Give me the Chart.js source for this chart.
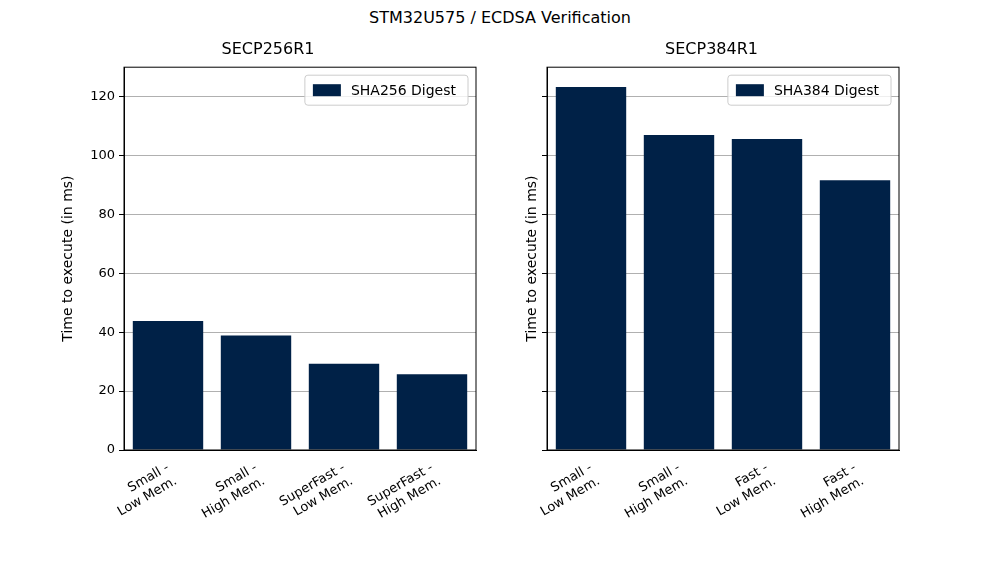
<!DOCTYPE html>
<html>
<head>
<meta charset="utf-8">
<script src="https://cdn.jsdelivr.net/npm/chart.js@4"></script>
<style>
  body { margin: 0; background: #fff; font-family: "DejaVu Sans", sans-serif; }
  #wrap { position: relative; width: 1000px; height: 563px; }
  #suptitle { position: absolute; top: 8px; left: 0; width: 1000px; text-align: center; font-size: 16px; color: #000; }
  .box { position: absolute; top: 0; width: 500px; height: 563px; }
</style>
</head>
<body>
<div id="wrap">
  <div id="suptitle">STM32U575 / ECDSA Verification</div>
  <div class="box" style="left:0"><canvas id="c1"></canvas></div>
  <div class="box" style="left:500px"><canvas id="c2"></canvas></div>
</div>
<script>
'use strict';

const LABELS_256 = [['Small -', 'Low Mem.'], ['Small -', 'High Mem.'], ['SuperFast -', 'Low Mem.'], ['SuperFast -', 'High Mem.']];
const VALUES_256 = [43.8, 38.9, 29.3, 25.7];
const LABELS_384 = [['Small -', 'Low Mem.'], ['Small -', 'High Mem.'], ['Fast -', 'Low Mem.'], ['Fast -', 'High Mem.']];
const VALUES_384 = [123.3, 107.0, 105.6, 91.6];
const Y_TICKS = [0, 20, 40, 60, 80, 100, 120];
const NAVY = '#002147';
const FONT = 'DejaVu Sans';

const frameAndLegend = {
  id: 'frameAndLegend',
  afterDraw(chart) {
    const { ctx, chartArea: a } = chart;
    ctx.save();
    ctx.strokeStyle = '#000';
    ctx.lineWidth = 1;
    ctx.strokeRect(a.left, a.top, a.right - a.left, a.bottom - a.top);
    // legend inside plot, upper right
    const label = chart.data.datasets[0].label;
    ctx.font = `14px "${FONT}"`;
    const tw = ctx.measureText(label).width;
    const w = tw + 58, h = 30;
    const x = a.right - 8 - w, y = a.top + 8;
    ctx.fillStyle = 'rgba(255,255,255,0.8)';
    ctx.strokeStyle = '#cccccc';
    ctx.beginPath();
    ctx.roundRect(x, y, w, h, 3);
    ctx.fill();
    ctx.stroke();
    ctx.fillStyle = NAVY;
    ctx.fillRect(x + 8, y + 9, 28, 12);
    ctx.fillStyle = '#000';
    ctx.textBaseline = 'middle';
    ctx.fillText(label, x + 46, y + h / 2 + 1);
    ctx.restore();
  },
};

function makeChart(id, title, seriesLabel, labels, values, opts) {
  return new Chart(document.getElementById(id), {
    type: 'bar',
    data: {
      labels,
      datasets: [{ label: seriesLabel, data: values, backgroundColor: NAVY, barPercentage: 0.8, categoryPercentage: 1 }],
    },
    options: {
      responsive: false,
      animation: false,
      devicePixelRatio: 1,
      layout: { padding: { left: opts.padLeft, right: opts.padRight, top: 0, bottom: 0 } },
      plugins: {
        legend: { display: false },
        tooltip: { enabled: false },
        title: { display: true, text: title, color: '#000', font: { family: FONT, size: 16, weight: 'normal' }, padding: { top: 40, bottom: 8 } },
      },
      scales: {
        x: {
          grid: { display: false, drawTicks: true },
          border: { color: '#000' },
          ticks: { color: '#000', font: { family: FONT, size: 13 }, maxRotation: 30, minRotation: 30, padding: 2 },
          afterFit(s) { s.height = 113; },
        },
        y: {
          min: 0,
          max: 130,
          afterBuildTicks(s) { s.ticks = Y_TICKS.map(v => ({ value: v })); },
          grid: { color: '#b0b0b0', tickColor: '#000', tickLength: 5 },
          border: { color: '#000' },
          ticks: { color: '#000', font: { family: FONT, size: 13 }, padding: 4, callback: v => (opts.showTicks ? v : '') },
          title: { display: true, text: 'Time to execute (in ms)', color: '#000', font: { family: FONT, size: 14 }, padding: 0 },
          afterFit(s) { s.width = opts.yWidth; },
        },
      },
    },
    plugins: [frameAndLegend],
  });
}

const sizeCanvas = id => { const c = document.getElementById(id); c.width = 500; c.height = 563; };
sizeCanvas('c1');
sizeCanvas('c2');

makeChart('c1', 'SECP256R1', 'SHA256 Digest', LABELS_256, VALUES_256, { padLeft: 60, padRight: 24, yWidth: 64, showTicks: true });
makeChart('c2', 'SECP384R1', 'SHA384 Digest', LABELS_384, VALUES_384, { padLeft: 24, padRight: 101, yWidth: 23, showTicks: false });
</script>
</body>
</html>
